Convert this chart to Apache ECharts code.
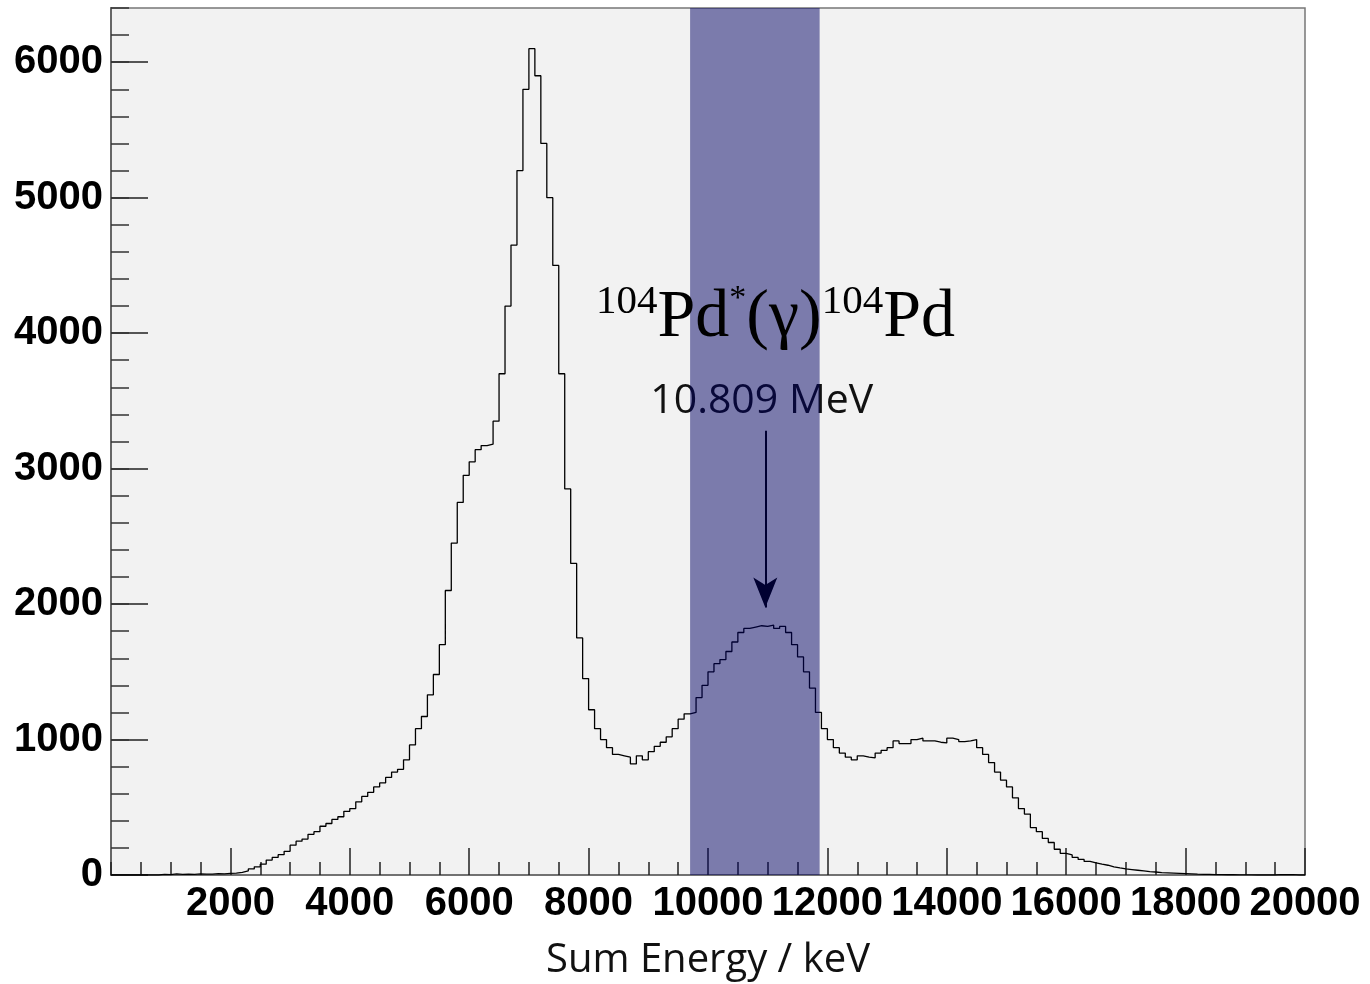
<!DOCTYPE html>
<html>
<head>
<meta charset="utf-8">
<script src="https://cdn.jsdelivr.net/npm/echarts@6/dist/echarts.min.js"></script>
<style>
  html, body { margin: 0; padding: 0; background: #fff; }
  #chart { width: 1370px; height: 984px; }
</style>
</head>
<body>
<div id="chart"></div>
<script>
// bin width of the histogram (keV)
const binWidth = 100;

// counts per 100 keV bin
const counts0to5k = [0, 0, 0, 0, 0, 0, 0, 0, 5, 3, 8, 4, 6, 5, 8, 6, 7, 10, 8, 12,
  14, 20, 30, 45, 60, 80, 110, 130, 150, 175, 220, 250, 265, 300, 320, 360, 380, 410, 430, 470,
  490, 540, 580, 610, 650, 680, 720, 760, 780, 850];
const counts5kto10k = [960, 1080, 1170, 1330, 1480, 1700, 2100, 2450, 2750, 2950,
  3050, 3140, 3170, 3180, 3350, 3700, 4200, 4650, 5200, 5800,
  6100, 5900, 5400, 5000, 4500, 3700, 2850, 2300, 1750, 1450,
  1220, 1080, 1000, 940, 890, 880, 870, 820, 880, 850,
  910, 950, 980, 1020, 1080, 1150, 1190, 1200, 1310, 1400];
const counts10kto15k = [1500, 1560, 1590, 1650, 1720, 1790, 1820, 1830, 1840, 1835,
  1845, 1820, 1835, 1790, 1700, 1610, 1500, 1380, 1200, 1080,
  1000, 940, 900, 870, 850, 880, 870, 865, 900, 920,
  940, 990, 970, 970, 1000, 1010, 990, 990, 980, 975,
  1010, 1000, 985, 990, 1000, 940, 890, 830, 760, 700];
const counts15kto20k = [650, 570, 490, 450, 350, 320, 270, 240, 190, 160,
  148, 130, 115, 100, 90, 80, 72, 60, 52, 45,
  40, 35, 30, 25, 22, 18, 16, 14, 12, 10,
  8, 6, 5, 4, 3, 3, 2, 2, 1, 1,
  1, 0, 0, 0, 0, 3, 2, 3, 0, 0];

// gated region (keV) and annotation
const gate = [9700, 11870];
const peakEnergy = 10960;
const arrowFrom = 3280;
const arrowTo = 1975;
const energyLabel = '10.809 MeV';

const counts = [].concat(counts0to5k, counts5kto10k, counts10kto15k, counts15kto20k);
const histData = counts.map((c, i) => [i * binWidth, c]);
histData.push([counts.length * binWidth, counts[counts.length - 1]]);

const labelFont = {
  fontFamily: 'Liberation Sans',
  fontWeight: 'bold',
  fontSize: 40,
  color: '#000',
  formatter: (v) => String(v)
};

let chart = echarts.init(document.getElementById('chart'));
chart.setOption({
  animation: false,
  backgroundColor: '#fff',
  grid: {
    left: 111,
    right: 65,
    top: 8,
    bottom: 109,
    outerBoundsMode: 'none',
    containLabel: false,
    show: true,
    backgroundColor: '#f2f2f2',
    borderColor: '#777',
    borderWidth: 1.5
  },
  xAxis: [
    {
      type: 'value',
      min: 0,
      max: 20000,
      interval: 2000,
      name: 'Sum Energy / keV',
      nameLocation: 'middle',
      nameGap: 66,
      nameTextStyle: {
        fontFamily: 'Open Sans',
        fontSize: 40,
        color: '#111'
      },
      axisLine: { lineStyle: { color: '#666', width: 1.5 } },
      axisTick: { inside: true, length: 27, lineStyle: { color: '#222', width: 1.5 } },
      axisLabel: Object.assign({ margin: 9, showMinLabel: false }, labelFont),
      splitLine: { show: false }
    },
    {
      type: 'value',
      position: 'bottom',
      min: 0,
      max: 20000,
      interval: 500,
      axisLine: { show: false },
      axisTick: { inside: true, length: 13, lineStyle: { color: '#222', width: 1.5 } },
      axisLabel: { show: false },
      splitLine: { show: false }
    }
  ],
  yAxis: [
    {
      type: 'value',
      min: 0,
      max: 6400,
      interval: 1000,
      axisLine: { show: true, lineStyle: { color: '#666', width: 2 } },
      axisTick: { inside: true, length: 37, lineStyle: { color: '#222', width: 1.5 } },
      axisLabel: Object.assign({ margin: 8, showMaxLabel: false }, labelFont),
      splitLine: { show: false }
    },
    {
      type: 'value',
      position: 'left',
      min: 0,
      max: 6400,
      interval: 200,
      axisLine: { show: false },
      axisTick: { inside: true, length: 18, lineStyle: { color: '#333', width: 1.5 } },
      axisLabel: { show: false },
      splitLine: { show: false }
    }
  ],
  series: [
    {
      type: 'line',
      z: 2,
      step: 'end',
      showSymbol: false,
      data: histData,
      lineStyle: { color: '#000', width: 1.3 },
      markLine: {
        z: 2,
        silent: true,
        symbol: ['none', 'arrow'],
        symbolSize: [18, 30],
        label: { show: false },
        lineStyle: { color: '#000', width: 2, type: 'solid' },
        data: [[
          { coord: [peakEnergy, arrowFrom] },
          { coord: [peakEnergy, arrowTo] }
        ]]
      },
      markPoint: {
        z: 2,
        silent: true,
        symbol: 'circle',
        symbolSize: 0,
        label: {
          show: true,
          position: 'inside',
          formatter: energyLabel,
          fontFamily: 'Open Sans',
          fontSize: 41,
          color: '#111'
        },
        data: [{ coord: [peakEnergy - 60, 3500] }]
      }
    },
    {
      type: 'line',
      z: 3,
      data: [],
      markArea: {
        z: 3,
        silent: true,
        itemStyle: { color: 'rgba(0, 0, 100, 0.49)' },
        data: [[{ xAxis: gate[0] }, { xAxis: gate[1] }]]
      }
    },
    {
      type: 'line',
      z: 4,
      data: [],
      markPoint: {
        z: 4,
        silent: true,
        symbol: 'circle',
        symbolSize: 0,
        label: {
          show: true,
          position: 'inside',
          formatter: '{s|104}{b|Pd}{t|*}{b|(γ)}{s|104}{b|Pd}',
          rich: {
            b: { fontFamily: 'Liberation Serif', fontSize: 68, color: '#000', lineHeight: 72 },
            s: { fontFamily: 'Liberation Serif', fontSize: 41, color: '#000', verticalAlign: 'top', lineHeight: 40 },
            t: { fontFamily: 'Liberation Serif', fontSize: 34, color: '#000', verticalAlign: 'top', lineHeight: 36 }
          }
        },
        data: [{ coord: [11130, 4110] }]
      }
    }
  ]
});
</script>
</body>
</html>
